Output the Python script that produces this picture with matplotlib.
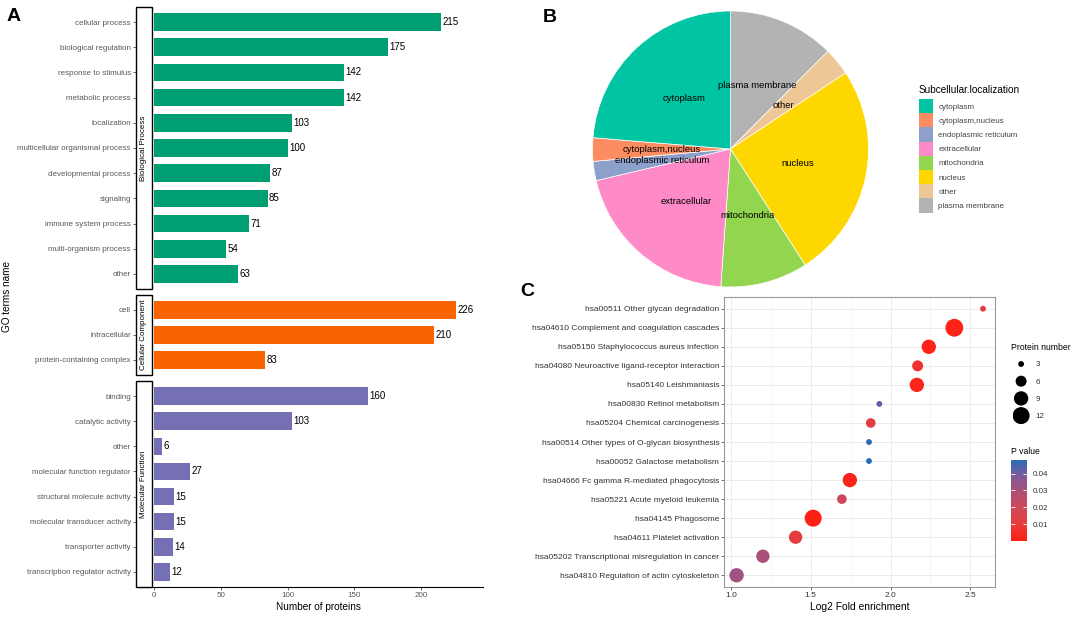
import numpy as np
import matplotlib
matplotlib.use("Agg")
import matplotlib.pyplot as plt
from matplotlib.patches import Rectangle
from matplotlib.colors import LinearSegmentedColormap

plt.rcParams['font.family'] = ['Liberation Sans', 'DejaVu Sans']

# ---- panel A: GO terms ----
bp_terms = ["cellular process", "biological regulation", "response to stimulus",
            "metabolic process", "localization", "multicellular organismal process",
            "developmental process", "signaling", "immune system process",
            "multi-organism process", "other"]
bp_counts = [215, 175, 142, 142, 103, 100, 87, 85, 71, 54, 63]
cc_terms = ["cell", "intracellular", "protein-containing complex"]
cc_counts = [226, 210, 83]
mf_terms = ["binding", "catalytic activity", "other", "molecular function regulator",
            "structural molecule activity", "molecular transducer activity",
            "transporter activity", "transcription regulator activity"]
mf_counts = [160, 103, 6, 27, 15, 15, 14, 12]

# ---- panel B: subcellular localization ----
loc_names = ["cytoplasm", "cytoplasm,nucleus", "endoplasmic reticulum", "extracellular",
             "mitochondria", "nucleus", "other", "plasma membrane"]
loc_counts = [95, 11, 9, 81, 41, 101, 13, 50]
loc_colors = ["#00C4A2", "#FC8D62", "#8DA0CB", "#FF8AC8",
              "#92D54E", "#FFD700", "#EEC796", "#B3B3B3"]

# ---- panel C: KEGG enrichment ----
kegg_terms = ["hsa00511 Other glycan degradation",
              "hsa04610 Complement and coagulation cascades",
              "hsa05150 Staphylococcus aureus infection",
              "hsa04080 Neuroactive ligand-receptor interaction",
              "hsa05140 Leishmaniasis",
              "hsa00830 Retinol metabolism",
              "hsa05204 Chemical carcinogenesis",
              "hsa00514 Other types of O-glycan biosynthesis",
              "hsa00052 Galactose metabolism",
              "hsa04666 Fc gamma R-mediated phagocytosis",
              "hsa05221 Acute myeloid leukemia",
              "hsa04145 Phagosome",
              "hsa04611 Platelet activation",
              "hsa05202 Transcriptional misregulation in cancer",
              "hsa04810 Regulation of actin cytoskeleton"]
kegg_fold = [2.58, 2.40, 2.24, 2.17, 2.165, 1.93, 1.876, 1.865, 1.865,
             1.745, 1.695, 1.515, 1.405, 1.20, 1.035]
kegg_n = [3, 13, 9, 6, 9, 3, 5, 3, 3, 9, 5, 12, 8, 8, 9]
kegg_p = [0.012, 0.0008, 0.0012, 0.007, 0.002, 0.042, 0.011, 0.048, 0.048,
          0.0015, 0.019, 0.0002, 0.011, 0.030, 0.032]
size_breaks = [3, 6, 9, 12]
p_ticks = [0.01, 0.02, 0.03, 0.04]

W, H = 1072, 617


def box(x0, y0, x1, y1):
    # pixel box -> figure fraction rect
    return [x0 / W, 1 - y1 / H, (x1 - x0) / W, (y1 - y0) / H]


def dot_size(n):
    d_px = 0.7 + 17.1 * np.sqrt((np.asarray(n, dtype=float) - 2) / 11)
    return (d_px * 0.72) ** 2


fig = plt.figure(figsize=(10.72, 6.17), dpi=100)

# ================= A =================
facets = [("Biological Process", bp_terms, bp_counts, "#009E73", 7, 289),
          ("Cellular Component", cc_terms, cc_counts, "#FA6400", 294.7, 375),
          ("Molecular Function", mf_terms, mf_counts, "#7570B3", 381, 587)]
for i, (name, terms, counts, col, top, bot) in enumerate(facets):
    ax = fig.add_axes(box(136, top, 483, bot))
    y = np.arange(len(terms))
    ax.barh(y, counts, height=0.7, color=col)
    ax.set_ylim(len(terms) - 0.4, -0.6)
    ax.set_xlim(-13.5, 246.4)
    ax.set_yticks(y)
    ax.set_yticklabels(terms, fontsize=5.8, color="#595959")
    ax.tick_params(axis="y", length=2.2, width=0.5, color="#333333", pad=1.5)
    for v, yy in zip(counts, y):
        ax.annotate(str(v), (v, yy), xytext=(1, 0), textcoords="offset points",
                    va="center", ha="left", fontsize=7)
    for s in ["top", "right", "left"]:
        ax.spines[s].set_visible(False)
    ax.add_patch(Rectangle((0, 0), 15.7 / 347, 1, transform=ax.transAxes,
                           fc="white", ec="black", lw=1.0, clip_on=False, zorder=3))
    ax.text(7.85 / 347, 0.5, name, transform=ax.transAxes, rotation=90,
            ha="center", va="center", fontsize=5.8, zorder=4)
    if i == 2:
        ax.spines["bottom"].set_color("black")
        ax.spines["bottom"].set_linewidth(0.8)
        ax.set_xticks([0, 50, 100, 150, 200])
        ax.tick_params(axis="x", length=2.2, width=0.5, color="#333333",
                       labelsize=5.8, labelcolor="#595959", pad=1.5)
        ax.set_xlabel("Number of proteins", fontsize=7.2)
        ax.xaxis.set_label_coords((318.7 - 136) / 347, -0.075)
    else:
        ax.spines["bottom"].set_visible(False)
        ax.set_xticks([])

fig.text(7 / W, 1 - 297 / H, "GO terms name", rotation=90, ha="center",
         va="center", fontsize=7.2)
fig.text(14 / W, 1 - 16.5 / H, "A", fontsize=14, fontweight="bold", ha="center", va="center")

# ================= B =================
axb = fig.add_axes(box(592.5, 11, 868.5, 287))
order = list(range(len(loc_names)))[::-1]
wedges, _ = axb.pie([loc_counts[i] for i in order],
                    colors=[loc_colors[i] for i in order],
                    startangle=90, counterclock=False,
                    wedgeprops=dict(edgecolor="white", linewidth=0.5))
for w, i in zip(wedges, order):
    ang = np.deg2rad((w.theta1 + w.theta2) / 2)
    axb.text(0.5 * np.cos(ang), 0.5 * np.sin(ang), loc_names[i],
             ha="center", va="center", fontsize=6.8)
axb.set_xlim(-1, 1)
axb.set_ylim(-1, 1)

# legend keys for the pie
axl = fig.add_axes(box(919, 99, 932.7, 212.7))
yl = np.arange(len(loc_names))
axl.barh(yl, 1, height=1, color=loc_colors)
axl.set_xlim(0, 1)
axl.set_ylim(len(loc_names) - 0.5, -0.5)
axl.set_xticks([])
axl.set_yticks(yl)
axl.set_yticklabels(loc_names, fontsize=5.8, color="#444444")
axl.yaxis.tick_right()
axl.tick_params(axis="y", length=0, pad=4)
for s in axl.spines.values():
    s.set_visible(False)
fig.text(919 / W, 1 - 90 / H, "Subcellular.localization", fontsize=7.2,
         ha="left", va="center")

fig.text(550 / W, 1 - 17 / H, "B", fontsize=14, fontweight="bold", ha="center", va="center")

# ================= C =================
cmap = LinearSegmentedColormap.from_list(
    "pv", ["#FF2015", "#E83A3C", "#CF4858", "#AE5077", "#7F5A98", "#2A6BB8"])
axc = fig.add_axes(box(724.3, 297.3, 995, 586.7))
yk = np.arange(len(kegg_terms))
sc = axc.scatter(kegg_fold, yk, s=dot_size(kegg_n), c=kegg_p, cmap=cmap,
                 vmin=min(kegg_p), vmax=max(kegg_p), edgecolors="none", zorder=3)
axc.set_ylim(len(kegg_terms) - 0.4, -0.6)
axc.set_xlim(0.958, 2.655)
axc.set_yticks(yk)
axc.set_yticklabels(kegg_terms, fontsize=6, color="#333333")
axc.set_xticks([1.0, 1.5, 2.0, 2.5])
axc.set_xticks([1.25, 1.75, 2.25], minor=True)
axc.tick_params(axis="both", which="major", length=2.2, width=0.5, color="#333333",
                labelsize=6, labelcolor="#333333", pad=1.5)
axc.tick_params(axis="x", which="minor", length=0)
axc.grid(True, which="major", color="#EBEBEB", lw=0.7)
axc.grid(True, which="minor", axis="x", color="#F2F2F2", lw=0.5)
axc.set_axisbelow(True)
for s in axc.spines.values():
    s.set_color("#999999")
    s.set_linewidth(0.8)
axc.set_xlabel("Log2 Fold enrichment", fontsize=7.4, labelpad=2)

# size legend
axs = fig.add_axes(box(1012.5, 355.4, 1029.7, 424.2))
ys = np.arange(len(size_breaks))
axs.scatter(np.zeros(len(size_breaks)), ys, s=dot_size(size_breaks), c="black",
            edgecolors="none")
axs.set_xlim(-1, 1)
axs.set_ylim(len(size_breaks) - 0.5, -0.5)
axs.set_xticks([])
axs.set_yticks(ys)
axs.set_yticklabels([str(n) for n in size_breaks], fontsize=5.8, color="#333333")
axs.yaxis.tick_right()
axs.tick_params(axis="y", length=0, pad=4)
for s in axs.spines.values():
    s.set_visible(False)
fig.text(1011 / W, 1 - 347.7 / H, "Protein number", fontsize=6.2,
         ha="left", va="center")

cax = fig.add_axes(box(1011, 460, 1027, 540.7))
cb = fig.colorbar(sc, cax=cax)
cb.outline.set_visible(False)
cb.set_ticks(p_ticks)
cax.yaxis.set_ticks_position("both")
cax.tick_params(length=3, width=0.6, color="white", direction="in",
                labelsize=5.8, labelcolor="#333333", pad=4, labelleft=False, labelright=True)
fig.text(1011 / W, 1 - 451 / H, "P value", fontsize=6.2, ha="left", va="center")

fig.text(527 / W, 1 - 291 / H, "C", fontsize=14, fontweight="bold", ha="center", va="center")

fig.savefig("out.png", dpi=100)
